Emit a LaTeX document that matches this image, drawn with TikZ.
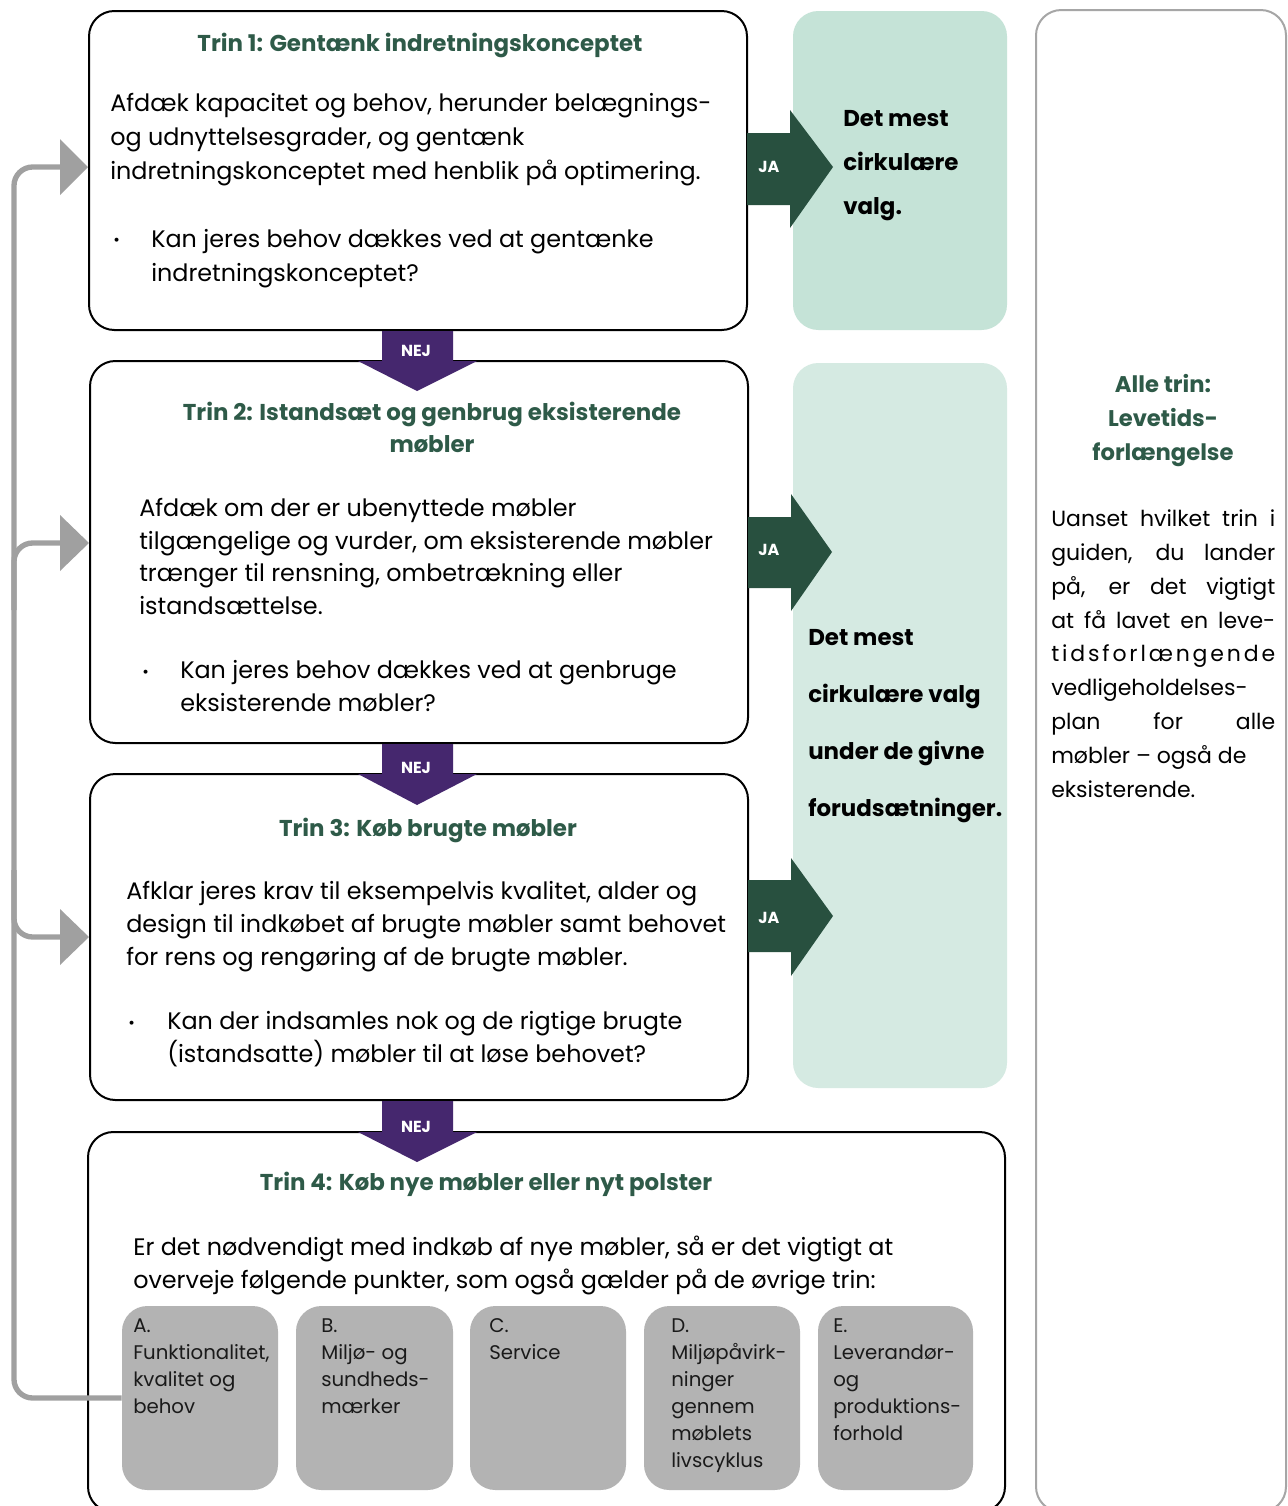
\documentclass[tikz,border=0pt]{standalone}
\usepackage{fontspec}
\setmainfont{Poppins}
\usetikzlibrary{fit}
\definecolor{tgreen}{HTML}{2E5A48}
\definecolor{jagreen}{HTML}{28503F}
\definecolor{nejpurple}{HTML}{45276E}
\definecolor{mint}{HTML}{C5E3D7}
\definecolor{mintlight}{HTML}{D5EAE2}
\definecolor{graybox}{HTML}{B3B3B3}
\definecolor{conngray}{HTML}{A0A0A0}
\definecolor{framegray}{HTML}{A6A6A6}
\definecolor{itemtext}{HTML}{1A1A1A}
\newcommand{\jl}[1]{\makebox[168pt][s]{#1}}
\begin{document}
\begin{tikzpicture}[x=0.75pt,y=-0.75pt,
  stepbox/.style={draw=black, line width=1.5pt, rounded corners=19pt, inner sep=0pt, fill=white},
  mintbox/.style={fill=#1, draw=none, rounded corners=19pt, inner sep=0pt},
  itembox/.style={fill=graybox, draw=none, rounded corners=19pt, inner sep=0pt},
  framebox/.style={draw=framegray, line width=1.5pt, rounded corners=19pt, inner sep=0pt},
  steptitle/.style={font=\bfseries\fontsize{17.2}{24}\selectfont, text=tgreen, align=center, anchor=base, inner sep=0pt},
  bodytext/.style={font=\fontsize{17.9}{#1}\selectfont, align=left, anchor=base west, inner sep=0pt},
  bullettext/.style={font=\fontsize{12}{12}\selectfont, anchor=base west, inner sep=0pt},
  itemtxt/.style={font=\fontsize{14.8}{20.25}\selectfont, text=itemtext, align=left, anchor=base west, inner sep=0pt},
  choicetxt/.style={font=\bfseries\fontsize{17.2}{#1}\selectfont, align=left, anchor=base west, inner sep=0pt},
  nejlabel/.style={font=\bfseries\fontsize{12}{12}\selectfont, text=white, inner sep=0pt},
  nejarrow/.style={fill=nejpurple, draw=none},
  jaarrow/.style={fill=jagreen, draw=none},
  conn/.style={draw=conngray, line width=4pt, rounded corners=14pt},
  connhead/.style={fill=conngray, draw=none}
]
\useasboundingbox (0,0) rectangle (1288,1506);
\fill[white] (0,0) rectangle (1288,1506);

% right frame
\node[framebox, fit={(1036,10) (1286,1512)}] (rf) {};

% mint boxes
\node[mintbox=mint, fit={(793,11) (1007,330)}] (g1) {};
\node[mintbox=mintlight, fit={(793,363) (1007,1088)}] (g2) {};

% step boxes
\node[stepbox, fit={(89,11) (747,330)}] (b1) {};
\node[stepbox, fit={(90,361) (748,743)}] (b2) {};
\node[stepbox, fit={(90,774) (748,1100)}] (b3) {};
\node[stepbox, fit={(88,1132) (1005,1512)}] (b4) {};

% item boxes
\node[itembox, fit={(122,1306) (278,1490)}] (gA) {};
\node[itembox, fit={(296,1306) (453,1490)}] (gB) {};
\node[itembox, fit={(470,1306) (626,1490)}] (gC) {};
\node[itembox, fit={(644,1306) (800,1490)}] (gD) {};
\node[itembox, fit={(818,1306) (973,1490)}] (gE) {};

% NEJ arrows
\fill[nejarrow] (382,331) -- (453,331) -- (453,361) -- (477,361) -- (417,391) -- (358,361) -- (382,361) -- cycle;
\fill[nejarrow] (382,744) -- (453,744) -- (453,774) -- (477,774) -- (417,805) -- (358,774) -- (382,774) -- cycle;
\fill[nejarrow] (382,1101) -- (453,1101) -- (453,1132) -- (477,1132) -- (417,1162) -- (358,1132) -- (382,1132) -- cycle;
\node[nejlabel] (n1) at (416,351) {NEJ};
\node[nejlabel] (n2) at (416,768) {NEJ};
\node[nejlabel] (n3) at (416,1127) {NEJ};

% JA arrows
\fill[jaarrow] (747,133) -- (790,133) -- (790,110) -- (833,167) -- (790,228) -- (790,205) -- (747,205) -- cycle;
\fill[jaarrow] (748,517) -- (791,517) -- (791,494) -- (832,552) -- (791,611) -- (791,588) -- (748,588) -- cycle;
\fill[jaarrow] (748,880) -- (791,880) -- (791,858) -- (833,916) -- (791,976) -- (791,952) -- (748,952) -- cycle;
\node[nejlabel] (j1) at (769,167) {JA};
\node[nejlabel] (j2) at (769,550) {JA};
\node[nejlabel] (j3) at (769,918) {JA};

% gray feedback connector
\coordinate (e1) at (62,167);
\coordinate (e2) at (62,543);
\coordinate (e3) at (62,937);
\draw[conn] (gA.west) -- (14,1398) -- (14,167) -- (e1);
\draw[conn] (14,610) -- (14,543) -- (e2);
\draw[conn] (14,870) -- (14,937) -- (e3);
\fill[connhead] (60,139) -- (b1.west |- e1) -- (60,195) -- cycle;
\fill[connhead] (60,515) -- (b2.west |- e2) -- (60,571) -- cycle;
\fill[connhead] (60,909) -- (b3.west |- e3) -- (60,965) -- cycle;

% Step 1 (base anchor = last line)
\node[steptitle] (t1) at (420,51) {Trin 1: Gentænk indretningskonceptet};
\node[bodytext=25.5pt] (p1) at (110,179) {Afdæk kapacitet og behov, herunder belægnings-\\og udnyttelsesgrader, og gentænk\\indretningskonceptet med henblik på optimering.};
\node[bullettext] (u1) at (113,245) {•};
\node[bodytext=25.5pt] (q1) at (151,281) {Kan jeres behov dækkes ved at gentænke\\indretningskonceptet?};

% Step 2
\node[steptitle] (t2) at (432,452) {Trin 2: Istandsæt og genbrug eksisterende\\møbler};
\node[bodytext=24.3pt] (p2) at (139,614) {Afdæk om der er ubenyttede møbler\\tilgængelige og vurder, om eksisterende møbler\\trænger til rensning, ombetrækning eller\\istandsættelse.};
\node[bullettext] (u2) at (142,677) {•};
\node[bodytext=24.3pt] (q2) at (180,711) {Kan jeres behov dækkes ved at genbruge\\eksisterende møbler?};

% Step 3
\node[steptitle] (t3) at (428,836) {Trin 3: Køb brugte møbler};
\node[bodytext=24.4pt] (p3) at (126,965) {Afklar jeres krav til eksempelvis kvalitet, alder og\\design til indkøbet af brugte møbler samt behovet\\for rens og rengøring af de brugte møbler.};
\node[bullettext] (u3) at (128,1028) {•};
\node[bodytext=24.4pt] (q3) at (167,1062) {Kan der indsamles nok og de rigtige brugte\\(istandsatte) møbler til at løse behovet?};

% Step 4
\node[steptitle] (t4) at (486,1190) {Trin 4: Køb nye møbler eller nyt polster};
\node[bodytext=24.75pt] (p4) at (133,1288) {Er det nødvendigt med indkøb af nye møbler, så er det vigtigt at\\overveje følgende punkter, som også gælder på de øvrige trin:};

\node[itemtxt] (xA) at (133,1413) {A.\\Funktionalitet,\\kvalitet og\\behov};
\node[itemtxt] (xB) at (321,1413) {B.\\Miljø- og\\sundheds-\\mærker};
\node[itemtxt] (xC) at (489,1359) {C.\\Service};
\node[itemtxt] (xD) at (671,1467) {D.\\Miljøpåvirk-\\ninger\\gennem\\møblets\\livscyklus};
\node[itemtxt] (xE) at (833,1440) {E.\\Leverandør-\\og\\produktions-\\forhold};

% choice texts
\node[choicetxt=33pt] (c1) at (843,214) {Det mest\\cirkulære\\valg.};
\node[choicetxt=42.75pt] (c2) at (808,816) {Det mest\\cirkulære valg\\under de givne\\forudsætninger.};

% right column
\node[steptitle, font=\bfseries\fontsize{17}{25.5}\selectfont] (rt) at (1163,460) {Alle trin:\\Levetids-\\forlængelse};
\node[font=\fontsize{16.5}{25.35}\selectfont, align=left, anchor=base west, inner sep=0pt] (rb) at (1051,797) {\jl{Uanset hvilket trin i}\\\jl{guiden, du lander}\\\jl{på, er det vigtigt}\\\jl{at få lavet en leve-}\\\jl{t\hfil i\hfil d\hfil s\hfil f\hfil o\hfil r\hfil l\hfil æ\hfil n\hfil g\hfil e\hfil n\hfil d\hfil e}\\\jl{vedligeholdelses-}\\\jl{plan for alle}\\møbler – også de\\eksisterende.};
\end{tikzpicture}
\end{document}
